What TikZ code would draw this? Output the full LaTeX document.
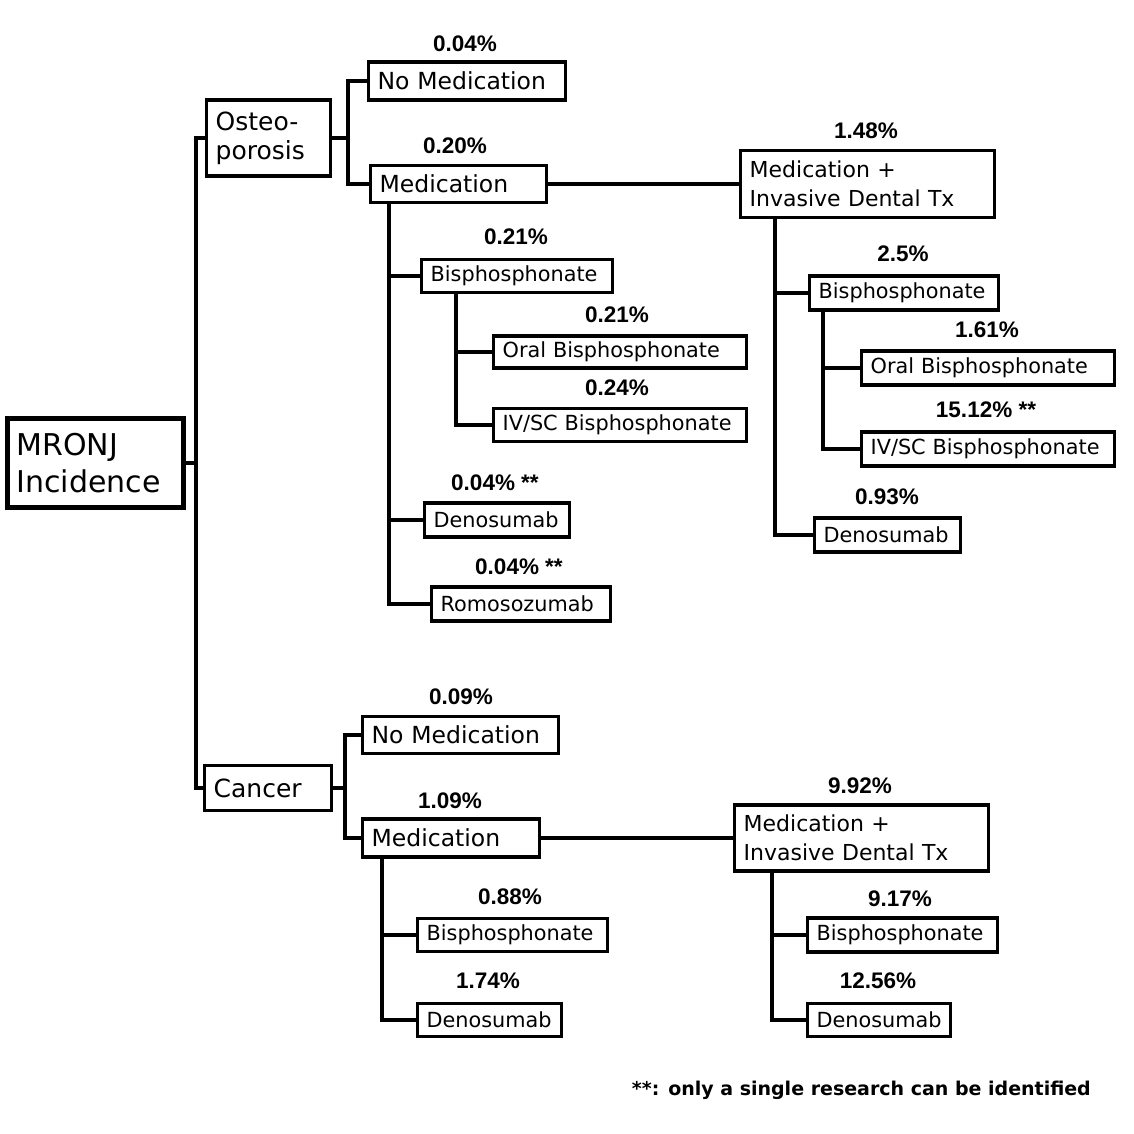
\documentclass[tikz,border=0pt]{standalone}
\usepackage{fontspec}
\setmainfont{Liberation Sans}
\newfontfamily\boxfont{DejaVu Sans}
\newfontfamily\pctfont{Liberation Sans}
\newfontfamily\notefont{DejaVu Sans}
\begin{document}
\begin{tikzpicture}[x=1pt,y=-1pt,
  box/.style={draw, line width=3.3pt, rectangle, inner xsep=9pt, inner ysep=0pt, anchor=west, align=left,
    font=\boxfont\fontsize{23.5}{27}\selectfont},
  sbox/.style={box, font=\boxfont\fontsize{20.8}{24}\selectfont},
  pct/.style={font=\pctfont\bfseries\fontsize{22.5}{24}\selectfont, inner sep=0pt},
  conn/.style={line width=3.8pt, line cap=rect}
]
\useasboundingbox (0,0) rectangle (1134,1134);

% root
\node[box, line width=5pt, text width=158pt, minimum height=89pt, font=\boxfont\fontsize{30}{37}\selectfont] (mronj) at (5,463) {MRONJ\\Incidence};

% level 1
\node[box, text width=106pt, minimum height=76pt, font=\boxfont\fontsize{25}{29}\selectfont] (osteo) at (205,138) {Osteo-\\porosis};
\node[box, text width=109pt, minimum height=45pt, font=\boxfont\fontsize{25}{29}\selectfont] (cancer) at (203,788) {Cancer};

% osteoporosis branch
\node[box, text width=179pt, minimum height=38pt] (nm1) at (367,81) {No Medication};
\node[box, text width=158pt, minimum height=37pt] (med1) at (369,184) {Medication};
\node[box, text width=236pt, minimum height=67pt, font=\boxfont\fontsize{22}{29}\selectfont] (mi1) at (739,184) {Medication +\\Invasive Dental Tx};

\node[sbox, text width=173pt, minimum height=33pt] (bis1) at (420,276) {Bisphosphonate};
\node[sbox, text width=235pt, minimum height=32pt] (obis1) at (492,352) {Oral Bisphosphonate};
\node[sbox, text width=235pt, minimum height=33pt] (ivbis1) at (492,425) {IV/SC Bisphosphonate};
\node[sbox, text width=127pt, minimum height=34pt] (den1) at (423,520) {Denosumab};
\node[sbox, text width=161pt, minimum height=34pt] (romo1) at (430,604) {Romosozumab};

\node[sbox, text width=171pt, minimum height=34pt] (bis2) at (808,293) {Bisphosphonate};
\node[sbox, text width=235pt, minimum height=34pt] (obis2) at (860,368) {Oral Bisphosphonate};
\node[sbox, text width=235pt, minimum height=34pt] (ivbis2) at (860,449) {IV/SC Bisphosphonate};
\node[sbox, text width=128pt, minimum height=34pt] (den2) at (813,535) {Denosumab};

% cancer branch
\node[box, text width=178pt, minimum height=37pt] (nm2) at (361,735) {No Medication};
\node[box, text width=159pt, minimum height=38pt] (med2) at (361,838) {Medication};
\node[box, text width=236pt, minimum height=66pt, font=\boxfont\fontsize{22}{29}\selectfont] (mi2) at (733,838) {Medication +\\Invasive Dental Tx};

\node[sbox, text width=172pt, minimum height=33pt] (bis3) at (416,935) {Bisphosphonate};
\node[sbox, text width=126pt, minimum height=33pt] (den3) at (416,1020) {Denosumab};
\node[sbox, text width=172pt, minimum height=34pt] (bis4) at (806,935) {Bisphosphonate};
\node[sbox, text width=125pt, minimum height=33pt] (den4) at (806,1020) {Denosumab};

% percentages
\node[pct] (p1) at (465,44) {0.04\%};
\node[pct] (p2) at (455,146) {0.20\%};
\node[pct] (p3) at (866,131) {1.48\%};
\node[pct] (p4) at (516,237) {0.21\%};
\node[pct] (p5) at (617,315) {0.21\%};
\node[pct] (p6) at (617,388) {0.24\%};
\node[pct] (p7) at (495,483) {0.04\% **};
\node[pct] (p8) at (519,567) {0.04\% **};
\node[pct] (p9) at (903,254) {2.5\%};
\node[pct] (p10) at (987,330) {1.61\%};
\node[pct] (p11) at (986,410) {15.12\% **};
\node[pct] (p12) at (887,497) {0.93\%};
\node[pct] (p13) at (461,697) {0.09\%};
\node[pct] (p14) at (450,801) {1.09\%};
\node[pct] (p15) at (860,786) {9.92\%};
\node[pct] (p16) at (510,897) {0.88\%};
\node[pct] (p17) at (488,981) {1.74\%};
\node[pct] (p18) at (900,899) {9.17\%};
\node[pct] (p19) at (878,981) {12.56\%};

\node[font=\notefont\bfseries\fontsize{19}{22}\selectfont, inner sep=0pt, anchor=east] (note) at (1091,1090) {**: only a single research can be identified};

% connectors
\draw[conn] (mronj.east) -- ++(10,0) |- (osteo.west);
\draw[conn] (mronj.east) -- ++(10,0) |- (cancer.west);

\draw[conn] (osteo.east) -- ++(16,0) |- (nm1.west);
\draw[conn] (osteo.east) -- ++(16,0) |- (med1.west);
\draw[conn] (med1.east) -- (mi1.west);
\draw[conn] ([xshift=20pt]med1.south west) |- (bis1.west);
\draw[conn] ([xshift=20pt]med1.south west) |- (den1.west);
\draw[conn] ([xshift=20pt]med1.south west) |- (romo1.west);
\draw[conn] ([xshift=36pt]bis1.south west) |- (obis1.west);
\draw[conn] ([xshift=36pt]bis1.south west) |- (ivbis1.west);
\draw[conn] ([xshift=36pt]mi1.south west) |- (bis2.west);
\draw[conn] ([xshift=36pt]mi1.south west) |- (den2.west);
\draw[conn] ([xshift=15pt]bis2.south west) |- (obis2.west);
\draw[conn] ([xshift=15pt]bis2.south west) |- (ivbis2.west);

\draw[conn] (cancer.east) -- ++(12,0) |- (nm2.west);
\draw[conn] (cancer.east) -- ++(12,0) |- (med2.west);
\draw[conn] (med2.east) -- (mi2.west);
\draw[conn] ([xshift=21pt]med2.south west) |- (bis3.west);
\draw[conn] ([xshift=21pt]med2.south west) |- (den3.west);
\draw[conn] ([xshift=39pt]mi2.south west) |- (bis4.west);
\draw[conn] ([xshift=39pt]mi2.south west) |- (den4.west);
\end{tikzpicture}
\end{document}
